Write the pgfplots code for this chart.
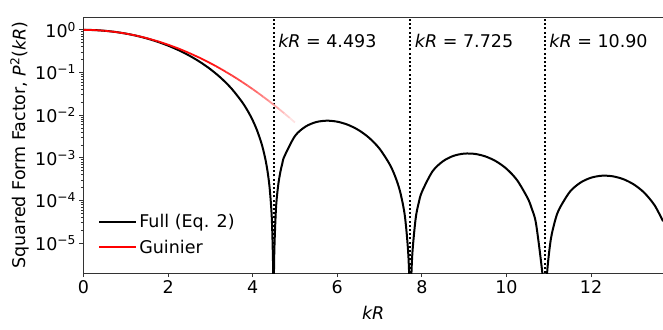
\documentclass[border=0pt]{standalone}
\usepackage{fontspec}
\setmainfont{DejaVu Sans}
\usepackage{pgfplots}
\pgfplotsset{compat=1.18}

\pgfplotsset{
  colormap={guinierfade}{rgb(0cm)=(1,0,0) rgb(3cm)=(1,0.05,0.05) rgb(4cm)=(1,0.4,0.4) rgb(4.5cm)=(1,0.62,0.62) rgb(5cm)=(1,0.93,0.93)}
}

\begin{document}
\begin{tikzpicture}[font=\fontsize{17.5}{21}\selectfont]
\path[use as bounding box] (-83.5pt,-56pt) rectangle (579.5pt,273pt);
\begin{semilogyaxis}[
  at={(0pt,0pt)}, anchor=south west, scale only axis,
  width=579.5pt, height=256pt,
  xmin=0, xmax=13.7, ymin=2e-6, ymax=2,
  xtick={0,2,4,6,8,10,12},
  ytick={1e-5,1e-4,1e-3,1e-2,1e-1,1},
  yticklabels={10\textsuperscript{−5},10\textsuperscript{−4},10\textsuperscript{−3},10\textsuperscript{−2},10\textsuperscript{−1},10\textsuperscript{0}},
  /pgf/number format/assume math mode=true,
  tick align=outside, tick pos=left,
  major tick length=4pt, minor tick length=2.5pt,
  every tick/.style={black!80, line width=0.8pt},
  axis line style={black!80, line width=0.9pt},
  tick label style={font=\fontsize{17.5}{21}\selectfont},
  xlabel={\textit{kR}},
  ylabel={Squared Form Factor, \textit{P}\textsuperscript{2}(\textit{kR})},
  xlabel style={at={(axis description cs:0.5,-0.156)}, anchor=center},
  ylabel style={at={(axis description cs:-0.11,0.5)}, anchor=center},
  legend style={at={(0.02,0.055)}, anchor=south west, draw=none, fill=none,
    row sep=6.5pt, font=\fontsize{17.5}{21}\selectfont},
  legend cell align=left,
  legend image code/.code={\draw[#1] (0pt,0pt) -- (37pt,0pt);},
  full/.style={black, line width=2pt, smooth, tension=0.5},
  zero/.style={black, line width=2pt, dash pattern=on 2pt off 2.2pt, forget plot},
]

% dotted markers at the zeros
\addplot[zero] coordinates {(4.493,2e-6) (4.493,2)};
\addplot[zero] coordinates {(7.725,2e-6) (7.725,2)};
\addplot[zero] coordinates {(10.904,2e-6) (10.904,2)};

% full squared form factor, one lobe at a time (zeros below the axis floor)
\addplot[full] coordinates {
(0,1) (0.25,0.98756) (0.5,0.95106) (0.75,0.89278) (1,0.81632) (1.25,0.72628)
(1.5,0.62781) (1.75,0.52622) (2,0.42653) (2.25,0.33314) (2.5,0.24946)
(2.75,0.17785) (3,0.11949) (3.25,0.074475) (3.5,0.041940) (3.75,0.020317)
(3.9,0.011750) (4,0.0075834) (4.1,0.0044847) (4.2,0.0023122) (4.25,0.0015299)
(4.3,9.278e-4) (4.35,4.8951e-4) (4.4,1.9911e-4) (4.45,4.2073e-5) (4.48,3.828e-6)
(4.4934,3e-7)
};
\addlegendentry{Full (Eq. 2)}
\addplot[full, forget plot] coordinates {
(4.4934,3e-7)
(4.51,5.80e-6) (4.55,6.401e-5) (4.6,2.1685e-4) (4.65,4.464e-4) (4.7,7.402e-4)
(4.75,1.0872e-3) (5,3.2551e-3) (5.25,5.4088e-3) (5.5,6.8897e-3) (5.75,7.4239e-3)
(6,7.0384e-3) (6.25,5.9544e-3) (6.5,4.4881e-3) (6.75,2.9603e-3) (7,1.6330e-3)
(7.25,6.726e-4) (7.4,3.018e-4) (7.5,1.3964e-4) (7.6,4.1414e-5) (7.68,5.207e-6)
(7.7253,3e-7)
};
\addplot[full, forget plot] coordinates {
(7.7253,3e-7)
(7.77,4.860e-6) (7.85,3.6094e-5) (7.92,8.4285e-5) (8,1.5920e-4) (8.25,4.8101e-4)
(8.5,8.3506e-4) (8.75,1.1152e-3) (9,1.2561e-3) (9.25,1.2381e-3) (9.5,1.0813e-3)
(9.75,8.3347e-4) (10,5.5413e-4) (10.25,3.0013e-4) (10.5,1.1363e-4) (10.6,6.34e-5)
(10.7,2.7984e-5) (10.85,1.8845e-6)
(10.9041,3e-7)
};
\addplot[full, forget plot] coordinates {
(10.9041,3e-7)
(10.97,2.671e-6) (11.05,1.2651e-5) (11.15,3.424e-5) (11.25,6.4083e-5)
(11.5,1.6104e-4) (11.75,2.6339e-4) (12,3.4269e-4) (12.25,3.8053e-4)
(12.5,3.7093e-4) (12.75,3.1968e-4) (13,2.4133e-4) (13.25,1.5459e-4)
(13.5,7.7667e-5) (13.7,3.2606e-5)
};

% Guinier approximation, fading out
\addplot[mesh, colormap name=guinierfade, point meta=x, line width=1.8pt, forget plot] coordinates {
(0,1) (0.25,0.98758) (0.5,0.95123) (0.75,0.89360) (1,0.81873) (1.25,0.73162)
(1.5,0.63763) (1.75,0.54199) (2,0.44933) (2.25,0.36331) (2.5,0.28650)
(2.75,0.22036) (3,0.16530) (3.125,0.14183) (3.25,0.12093) (3.375,0.10248)
(3.5,0.086294) (3.625,0.072214) (3.75,0.060057) (3.875,0.049632) (4,0.040762)
(4.125,0.033269) (4.25,0.026978) (4.375,0.021751) (4.5,0.017422) (4.625,0.013869)
(4.75,0.010973) (4.875,0.0086247) (5,0.0067379)
};
\addlegendimage{red, line width=1.8pt}
\addlegendentry{Guinier}

\node[anchor=west, inner sep=0pt] at (axis cs:4.6,0.56) {\textit{kR} = 4.493};
\node[anchor=west, inner sep=0pt] at (axis cs:7.832,0.56) {\textit{kR} = 7.725};
\node[anchor=west, inner sep=0pt] at (axis cs:11.011,0.56) {\textit{kR} = 10.90};
\end{semilogyaxis}
\end{tikzpicture}
\end{document}
